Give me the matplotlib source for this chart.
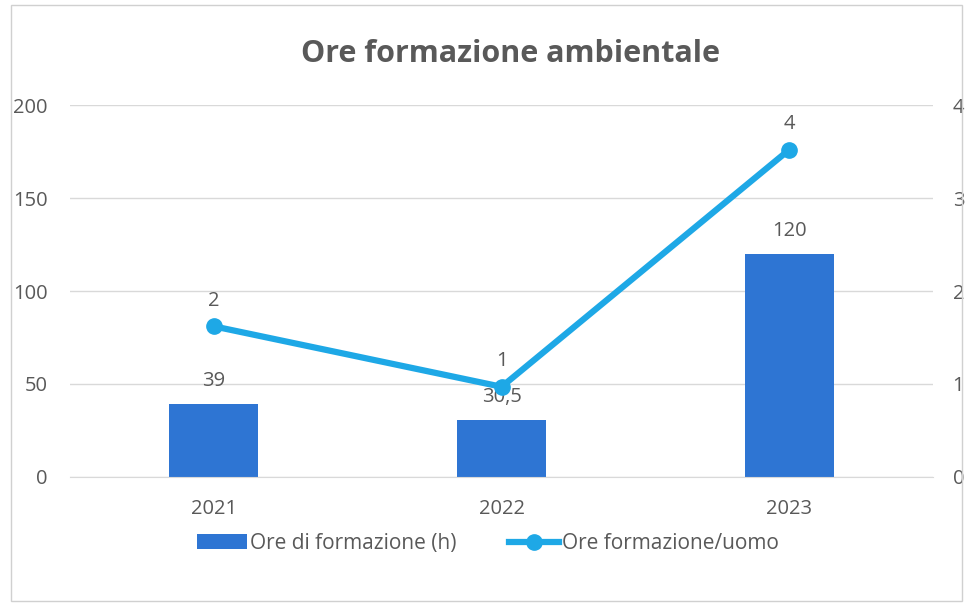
import matplotlib.pyplot as plt
from matplotlib.patches import Rectangle
import numpy as np

# Dati
anni = ["2021", "2022", "2023"]
ore_formazione = [39, 30.5, 120]
ore_per_uomo = [1.62, 0.97, 3.52]
etichette_ore = ["39", "30,5", "120"]

plt.rcParams['font.family'] = ['Open Sans', 'DejaVu Sans']

col_barre = '#2E75D3'
col_linea = '#1EA8E6'
grigio = '#595959'
fs = 14.5

fig = plt.figure(figsize=(9.66, 6.06), dpi=100)
ax = fig.add_axes([0.0725, 0.2129, 0.8935, 0.6138])
ax2 = ax.twinx()

x = np.arange(len(anni))
barre = ax.bar(x, ore_formazione, width=0.31, color=col_barre, zorder=2,
               label='Ore di formazione (h)')
ax.set_xlim(-0.5, 2.5)
ax.set_ylim(0, 200)
ax.set_yticks([0, 50, 100, 150, 200])
ax.grid(axis='y', color='#d9d9d9', linewidth=1, zorder=0)
ax.set_xticks(x)
ax.set_xticklabels(anni)
ax.tick_params(length=0, colors=grigio, labelsize=fs)
ax.tick_params(axis='x', pad=16)
ax.tick_params(axis='y', pad=16)
for s in ax.spines.values():
    s.set_visible(False)
ax.spines['bottom'].set_visible(True)
ax.spines['bottom'].set_color('#d9d9d9')

# valori sulle barre
for i, v in enumerate(ore_formazione):
    ax.text(x[i], v + 7, etichette_ore[i], ha='center', va='bottom',
            fontsize=fs, color=grigio)

linea, = ax2.plot(x, ore_per_uomo, color=col_linea, linewidth=4.5,
                  marker='o', markersize=11, zorder=3,
                  label='Ore formazione/uomo')
ax2.set_ylim(0, 4)
ax2.set_yticks([0, 1, 2, 3, 4])
ax2.tick_params(length=0, colors=grigio, labelsize=fs, pad=14)
for s in ax2.spines.values():
    s.set_visible(False)

# valori sulla linea
for i, v in enumerate(ore_per_uomo):
    ax2.text(x[i], v + 0.17, f"{v:.0f}", ha='center', va='bottom',
             fontsize=fs, color=grigio)

fig.suptitle('Ore formazione ambientale', x=0.528, y=0.935, fontsize=22,
             fontweight='bold', color=grigio)

fig.legend(handles=[barre, linea], loc='center', bbox_to_anchor=(0.505, 0.103),
           ncol=2, frameon=False, fontsize=15, labelcolor=grigio,
           handlelength=2.4, columnspacing=2.5, handletextpad=0.15)

fig.patches.append(Rectangle((0.011, 0.008), 0.985, 0.984, transform=fig.transFigure,
                             fill=False, edgecolor='#d0d0d0', linewidth=1))

fig.savefig('out.png', dpi=100)
